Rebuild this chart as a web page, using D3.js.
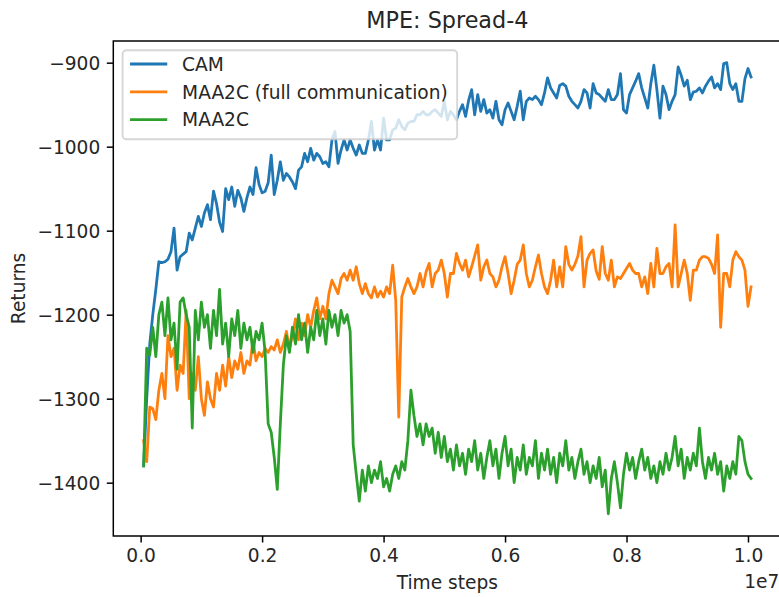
<!DOCTYPE html>
<html>
<head>
<meta charset="utf-8">
<script src="https://cdn.jsdelivr.net/npm/d3@7"></script>
<style>
  html, body { margin: 0; padding: 0; background: #ffffff; }
  svg { display: block; font-family: "DejaVu Sans", sans-serif; }
</style>
</head>
<body>
<svg id="chart" width="779" height="597"></svg>
<script>
// Environment steps are logged every 50k steps.
const STEP = 50000;

const cam = [
  -1380, -1300, -1235, -1200, -1170, -1137, -1138, -1137, -1134, -1125,
  -1097, -1147, -1131, -1128, -1125, -1103, -1111, -1097, -1083, -1095,
  -1079, -1069, -1087, -1053, -1068, -1090, -1101, -1050, -1063, -1048,
  -1071, -1052, -1061, -1077, -1061, -1048, -1057, -1025, -1045, -1055,
  -1053, -1043, -1010, -1057, -1040, -1018, -1040, -1032, -1036, -1042,
  -1050, -1028, -1024, -1008, -1018, -1002, -1016, -1008, -1012, -1020,
  -1018, -1024, -992, -982, -1020, -1004, -992, -1004, -992, -1002,
  -1010, -998, -1008, -1008, -992, -970, -1004, -992, -1004, -966,
  -992, -992, -980, -978, -968, -976, -980, -972, -970, -970,
  -962, -962, -958, -962, -962, -958, -956, -960, -964, -946,
  -968, -958, -962, -968, -958, -950, -964, -945, -932, -962,
  -938, -958, -944, -960, -956, -966, -946, -968, -974, -956,
  -948, -958, -968, -952, -934, -968, -946, -942, -944, -940,
  -944, -950, -936, -918, -930, -936, -942, -927, -925, -928,
  -940, -946, -950, -954, -946, -932, -936, -954, -925, -936,
  -938, -942, -946, -932, -944, -944, -938, -913, -956, -960,
  -938, -930, -922, -913, -930, -942, -954, -925, -903, -932,
  -966, -928, -938, -956, -946, -938, -905, -915, -928, -921,
  -944, -935, -934, -930, -936, -928, -922, -917, -930, -925,
  -932, -901, -900, -925, -932, -925, -946, -946, -919, -907,
  -917
];

const maa2cFull = [
  -1350, -1375, -1310, -1312, -1325, -1290, -1270, -1300, -1225, -1250,
  -1240, -1290, -1260, -1270, -1195, -1300, -1270, -1290, -1250, -1300,
  -1320, -1280, -1300, -1310, -1270, -1290, -1260, -1285, -1250, -1275,
  -1255, -1265, -1245, -1270, -1255, -1260, -1230, -1255, -1245, -1250,
  -1240, -1245, -1238, -1242, -1230, -1245, -1235, -1220, -1240, -1225,
  -1205, -1230, -1210, -1225, -1200, -1215, -1195, -1180, -1205, -1190,
  -1205, -1175, -1159, -1167, -1175, -1157, -1151, -1159, -1147, -1159,
  -1143, -1163, -1175, -1163, -1175, -1180, -1167, -1179, -1172, -1179,
  -1167, -1175, -1141, -1183, -1322, -1179, -1167, -1157, -1167, -1175,
  -1167, -1151, -1167, -1149, -1139, -1167, -1151, -1147, -1135, -1151,
  -1179, -1151, -1151, -1127, -1139, -1147, -1135, -1155, -1143, -1130,
  -1117, -1159, -1143, -1135, -1151, -1155, -1167, -1159, -1143, -1131,
  -1151, -1175, -1159, -1140, -1135, -1117, -1151, -1167, -1159, -1143,
  -1129, -1151, -1167, -1175, -1159, -1135, -1167, -1143, -1167, -1119,
  -1140, -1147, -1140, -1130, -1107, -1167, -1135, -1127, -1123, -1148,
  -1158, -1119, -1151, -1159, -1135, -1167, -1155, -1157, -1151, -1145,
  -1139, -1147, -1151, -1151, -1167, -1155, -1175, -1139, -1167, -1121,
  -1151, -1151, -1143, -1139, -1167, -1093, -1167, -1151, -1135, -1151,
  -1183, -1147, -1147, -1135, -1131, -1131, -1133, -1140, -1151, -1105,
  -1215, -1151, -1151, -1167, -1135, -1125, -1131, -1135, -1147, -1190,
  -1167
];

const maa2c = [
  -1380, -1240, -1248, -1215, -1250, -1200, -1185, -1225, -1180, -1230,
  -1210, -1265, -1185, -1180, -1200, -1215, -1335, -1195, -1230, -1185,
  -1215, -1200, -1240, -1195, -1225, -1170, -1235, -1210, -1250, -1205,
  -1225, -1195, -1240, -1210, -1230, -1215, -1245, -1220, -1230, -1210,
  -1245, -1330, -1340, -1370, -1408, -1330, -1260, -1225, -1245, -1215,
  -1235, -1200, -1230, -1210, -1245, -1215, -1230, -1195, -1225, -1205,
  -1235, -1195, -1215, -1200, -1225, -1195, -1210, -1200, -1220, -1355,
  -1390, -1422, -1385, -1410, -1380, -1400, -1385, -1395, -1375, -1405,
  -1395, -1410, -1390, -1380, -1395, -1375, -1385, -1350, -1290, -1320,
  -1345, -1330, -1355, -1330, -1345, -1335, -1365, -1340, -1370, -1345,
  -1375, -1360, -1385, -1355, -1380, -1365, -1390, -1360, -1375, -1350,
  -1385, -1365, -1395, -1370, -1350, -1380, -1360, -1395, -1365, -1345,
  -1380, -1360, -1400, -1370, -1385, -1355, -1390, -1370, -1380, -1350,
  -1395, -1365, -1385, -1360, -1390, -1370, -1400, -1365, -1380, -1350,
  -1385, -1370, -1395, -1375, -1360, -1390, -1375, -1400, -1380, -1395,
  -1370, -1405, -1385, -1437, -1395, -1375, -1400, -1430, -1390, -1365,
  -1385, -1370, -1395, -1375, -1360, -1385, -1370, -1395, -1380, -1400,
  -1375, -1390, -1365, -1385, -1370, -1345, -1380, -1360, -1395, -1370,
  -1385, -1365, -1380, -1335, -1375, -1395, -1370, -1385, -1365, -1390,
  -1375, -1410, -1380, -1395, -1375, -1390, -1345, -1350, -1375, -1390,
  -1395
];

const seriesNames = ["CAM", "MAA2C (full communication)", "MAA2C"];
const seriesColors = ["#1f77b4", "#ff7f0e", "#2ca02c"];
const xTickValues = [0, 2e6, 4e6, 6e6, 8e6, 1e7];
const yTickValues = [-1400, -1300, -1200, -1100, -1000, -900];
const titleText = "MPE: Spread-4";
const xLabelText = "Time steps";
const yLabelText = "Returns";
const xOffsetText = "1e7";

// ---- layout (1pt ≈ 1.86px) ----
const PT = 1.86;
const FONT = 18.6;
const plot = { left: 113.3, right: 781.4, top: 41, bottom: 536 };

const svg = d3.select("#chart");

const x = d3.scaleLinear().domain([-450000, 10550000]).range([plot.left, plot.right]);
const y = d3.scaleLinear().domain([-1463.5, -874.2]).range([plot.bottom, plot.top]);

const series = [cam, maa2cFull, maa2c].map((vals, k) => ({
  name: seriesNames[k],
  color: seriesColors[k],
  points: vals.map((v, i) => ({ t: (i + 1) * STEP, v }))
}));

// clip the curves to the axes area
svg.append("defs").append("clipPath").attr("id", "plot-clip")
  .append("rect")
  .attr("x", plot.left).attr("y", plot.top)
  .attr("width", plot.right - plot.left).attr("height", plot.bottom - plot.top);

const line = d3.line().x(d => x(d.t)).y(d => y(d.v));

svg.append("g").attr("clip-path", "url(#plot-clip)")
  .selectAll("path")
  .data(series)
  .join("path")
  .attr("d", d => line(d.points))
  .attr("fill", "none")
  .attr("stroke", d => d.color)
  .attr("stroke-width", 1.5 * PT)
  .attr("stroke-linejoin", "round")
  .attr("stroke-linecap", "square");

// ---- axes ----
const xAxis = d3.axisBottom(x)
  .tickValues(xTickValues)
  .tickFormat(d => (d / 1e7).toFixed(1))
  .tickSizeInner(3.5 * PT).tickSizeOuter(0).tickPadding(3.5 * PT);

const yAxis = d3.axisLeft(y)
  .tickValues(yTickValues)
  .tickFormat(d3.format("d"))
  .tickSizeInner(3.5 * PT).tickSizeOuter(0).tickPadding(3.5 * PT);

const gx = svg.append("g").attr("transform", `translate(0,${plot.bottom})`).call(xAxis);
const gy = svg.append("g").attr("transform", `translate(${plot.left},0)`).call(yAxis);

[gx, gy].forEach(g => {
  g.select(".domain").remove();
  g.selectAll(".tick line").attr("stroke", "#000").attr("stroke-width", 0.8 * PT);
  g.selectAll(".tick text")
    .attr("fill", "#262626")
    .style("font-size", FONT + "px")
    .style("font-family", "'DejaVu Sans', sans-serif");
});
gx.selectAll(".tick text").attr("dy", null).attr("y", 3.5 * PT * 2 + 0.73 * FONT - 1);
gy.selectAll(".tick text").attr("dy", "0.36em");

// spines
svg.append("rect")
  .attr("x", plot.left).attr("y", plot.top)
  .attr("width", plot.right - plot.left).attr("height", plot.bottom - plot.top)
  .attr("fill", "none").attr("stroke", "#000").attr("stroke-width", 0.8 * PT);

// ---- texts ----
svg.append("text")
  .attr("x", (plot.left + plot.right) / 2).attr("y", 28.3)
  .attr("text-anchor", "middle")
  .attr("fill", "#262626")
  .style("font-size", (FONT * 1.2) + "px")
  .text(titleText);

svg.append("text")
  .attr("x", (plot.left + plot.right) / 2).attr("y", 589)
  .attr("text-anchor", "middle")
  .attr("fill", "#262626")
  .style("font-size", FONT + "px")
  .text(xLabelText);

svg.append("text")
  .attr("x", plot.right - 2).attr("y", 588)
  .attr("text-anchor", "end")
  .attr("fill", "#262626")
  .style("font-size", FONT + "px")
  .text(xOffsetText);

svg.append("text")
  .attr("transform", `translate(25.4,${(plot.top + plot.bottom) / 2}) rotate(-90)`)
  .attr("text-anchor", "middle")
  .attr("fill", "#262626")
  .style("font-size", FONT + "px")
  .text(yLabelText);

// ---- legend ----
const pad = 0.4 * FONT;
const handleLen = 2 * FONT;
const textGap = 0.8 * FONT;
const rowH = 27.8;
const legX = plot.left + 0.5 * FONT;
const legY = plot.top + 0.5 * FONT;

const legend = svg.append("g");
const frame = legend.append("rect")
  .attr("x", legX).attr("y", legY)
  .attr("rx", 0.2 * FONT).attr("ry", 0.2 * FONT)
  .attr("fill", "#ffffff").attr("fill-opacity", 0.8)
  .attr("stroke", "#cccccc").attr("stroke-opacity", 0.8)
  .attr("stroke-width", 1 * PT);

const rows = legend.selectAll("g.row")
  .data(series)
  .join("g")
  .attr("class", "row")
  .attr("transform", (d, i) => `translate(0,${legY + 13.7 + i * rowH})`);

rows.append("line")
  .attr("x1", legX + pad).attr("x2", legX + pad + handleLen)
  .attr("y1", 0).attr("y2", 0)
  .attr("stroke", d => d.color)
  .attr("stroke-width", 1.5 * PT)
  .attr("stroke-linecap", "butt");

const labels = rows.append("text")
  .attr("x", legX + pad + handleLen + textGap)
  .attr("y", 0).attr("dy", "0.36em")
  .attr("fill", "#262626")
  .style("font-size", FONT + "px")
  .text(d => d.name);

let maxW = 0;
labels.each(function () { maxW = Math.max(maxW, this.getComputedTextLength()); });
frame
  .attr("width", pad + handleLen + textGap + maxW + pad + 2)
  .attr("height", 89);
</script>
</body>
</html>
